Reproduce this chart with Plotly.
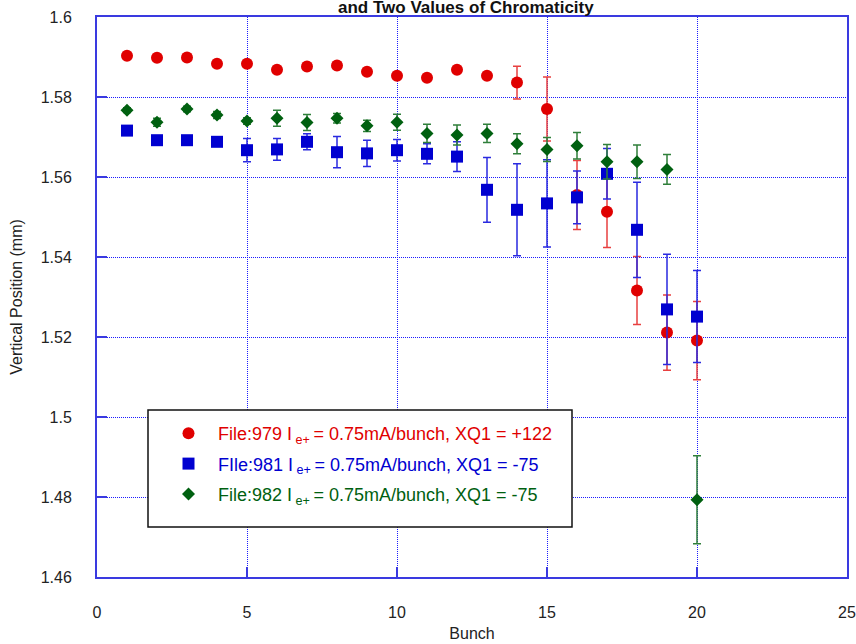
import plotly.graph_objects as go

bunch = list(range(1, 21))

y_979 = [1.5903, 1.5898, 1.5899, 1.5883, 1.5883, 1.5868, 1.5876, 1.5879, 1.5863, 1.5853,
         1.5848, 1.5868, 1.5853, 1.5836, 1.5770, 1.5555, 1.5513, 1.5316, 1.5211, 1.5191]
err_979 = [0.0005, 0.0004, 0.0004, 0.0004, 0.0004, 0.0004, 0.0006, 0.0006, 0.0004, 0.0004,
           0.0004, 0.0004, 0.0007, 0.0041, 0.0080, 0.0086, 0.0089, 0.0085, 0.0094, 0.0098]

y_981 = [1.5716, 1.5692, 1.5692, 1.5688, 1.5667, 1.5669, 1.5688, 1.5662, 1.5659, 1.5667,
         1.5658, 1.5651, 1.5568, 1.5518, 1.5534, 1.5549, 1.5608, 1.5468, 1.5269, 1.5251]
err_981 = [0.0005, 0.0007, 0.0005, 0.0005, 0.0029, 0.0027, 0.0020, 0.0039, 0.0033, 0.0027,
           0.0025, 0.0037, 0.0081, 0.0115, 0.0109, 0.0066, 0.0063, 0.0119, 0.0138, 0.0115]

y_982 = [1.5767, 1.5737, 1.5770, 1.5755, 1.5740, 1.5747, 1.5736, 1.5747, 1.5728, 1.5737,
         1.5709, 1.5705, 1.5709, 1.5683, 1.5669, 1.5678, 1.5638, 1.5638, 1.5619, 1.4793]
err_982 = [0.0006, 0.0010, 0.0007, 0.0009, 0.0008, 0.0020, 0.0020, 0.0012, 0.0014, 0.0020,
           0.0023, 0.0025, 0.0023, 0.0025, 0.0030, 0.0033, 0.0043, 0.0042, 0.0037, 0.0110]

names = ["File:979 I<sub> e+ </sub>= 0.75mA/bunch, XQ1 = +122",
         "FIle:981 I<sub> e+ </sub>= 0.75mA/bunch, XQ1 = -75",
         "File:982 I<sub> e+ </sub>= 0.75mA/bunch, XQ1 = -75"]

x_ticks = [0, 5, 10, 15, 20, 25]
x_tick_labels = ["0", "5", "10", "15", "20", "25"]
y_ticks = [1.46, 1.48, 1.5, 1.52, 1.54, 1.56, 1.58, 1.6]
y_tick_labels = ["1.46", "1.48", "1.5", "1.52", "1.54", "1.56", "1.58", "1.6"]

title_text = "and Two Values of Chromaticity"

series = [
    (y_979, err_979, names[0], "#e00000", "#e84040", "circle", 12, "a"),
    (y_981, err_981, names[1], "#0000d0", "#2a2ae0", "square", 12, "b"),
    (y_982, err_982, names[2], "#006010", "#2f7f3a", "diamond", 10, "c"),
]

fig = go.Figure()
for ys, es, nm, col, ecol, sym, sz, grp in series:
    fig.add_trace(go.Scatter(
        x=bunch, y=ys, mode="markers", legendgroup=grp,
        name=f"<span style='color:{col}'>{nm}</span>",
        marker=dict(color=col, symbol=sym, size=sz, line=dict(width=0)),
        error_y=dict(type="data", array=es, visible=True, color=ecol, thickness=1.5, width=4),
    ))

grid_blue = "#1c1cff"
axis_blue = "#3a3ae0"
fig.update_layout(
    width=856, height=644,
    margin=dict(l=97, r=9, t=17, b=67, autoexpand=False),
    paper_bgcolor="white", plot_bgcolor="white",
    font=dict(family="Liberation Sans, Arial, sans-serif", size=16, color="#222"),
    showlegend=True,
    legend=dict(x=(159 - 97) / 750, y=(577 - 415) / 560, xanchor="left", yanchor="top",
                bgcolor="rgba(0,0,0,0)", borderwidth=0,
                font=dict(size=18), itemwidth=49, tracegroupgap=4),
    shapes=[dict(type="rect", xref="paper", yref="paper",
                 x0=(148 - 97) / 750, x1=(572 - 97) / 750,
                 y0=(577 - 527) / 560, y1=(577 - 410) / 560,
                 fillcolor="white", line=dict(color="#111", width=1.5), layer="above")],
    annotations=[dict(text=f"<b>{title_text}</b>", xref="paper", yref="paper",
                      x=(466 - 97) / 750, y=1 + (17 - 7) / 560, xanchor="center", yanchor="middle",
                      showarrow=False, font=dict(size=17, color="#111"))],
)
fig.update_xaxes(
    range=[0, 25], tickvals=x_ticks, ticktext=x_tick_labels,
    showgrid=True, gridcolor=grid_blue, griddash="1px,1px", gridwidth=1,
    showline=True, linecolor=axis_blue, linewidth=2, mirror=True,
    ticks="inside", ticklen=10, tickcolor=axis_blue, tickwidth=1.5,
    zeroline=False, ticklabelstandoff=20, automargin=False,
    title=dict(text="Bunch", standoff=8, font=dict(size=16)),
)
fig.update_yaxes(
    range=[1.46, 1.6], tickvals=y_ticks, ticktext=y_tick_labels,
    showgrid=True, gridcolor=grid_blue, griddash="1px,1px", gridwidth=1,
    showline=True, linecolor=axis_blue, linewidth=2, mirror=True,
    ticks="inside", ticklen=10, tickcolor=axis_blue, tickwidth=1.5,
    zeroline=False, ticklabelstandoff=20, automargin=False,
    title=dict(text="Vertical Position (mm)", standoff=14, font=dict(size=16)),
)
fig.write_html("out.html", config={"displayModeBar": False},
               post_script="document.body.style.margin='0';")
